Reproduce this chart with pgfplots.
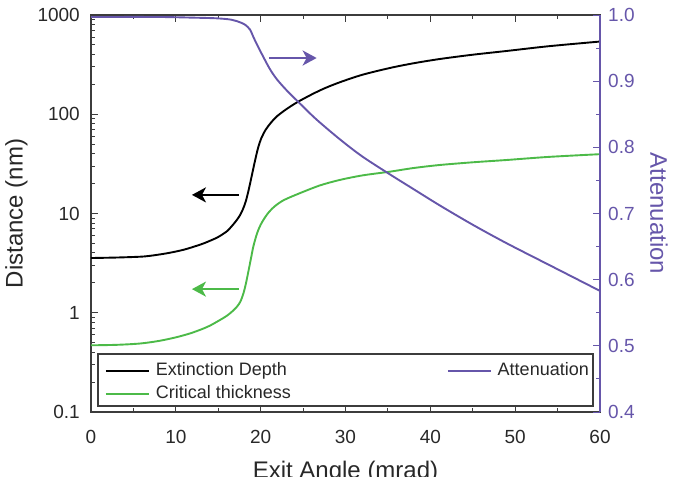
\documentclass[border=0pt]{standalone}
\usepackage{fontspec}
\setmainfont{Liberation Sans}
\usepackage{pgfplots}
\pgfplotsset{compat=1.18}
\usetikzlibrary{arrows.meta}
\definecolor{attn}{RGB}{102,86,170}
\definecolor{crit}{RGB}{76,186,72}
\definecolor{axgray}{RGB}{60,60,60}
\definecolor{txt}{RGB}{40,40,40}
\begin{document}
\begin{tikzpicture}
\pgfplotsset{
  every axis/.append style={
    scale only axis, width=509pt, height=397pt,
    xmin=0, xmax=60,
    /pgf/number format/assume math mode=true,
    tick label style={font=\fontsize{19}{19}\selectfont, text=txt},
    label style={font=\fontsize{24}{24}\selectfont},
    major tick length=7pt, minor tick length=4pt,
    tick align=inside,
  },
  legimg/.style={legend image code/.code={\draw[##1,line width=1.8pt] (0pt,0pt) -- (43pt,0pt);}},
}
\begin{axis}[
  ymode=log, ymin=0.1, ymax=1000,
  xtick={0,10,20,30,40,50,60}, minor x tick num=1,
  ytick={0.1,1,10,100,1000}, yticklabels={0.1,1,10,100,1000},
  minor ytick={0.2,0.3,0.4,0.5,0.6,0.7,0.8,0.9,2,3,4,5,6,7,8,9,20,30,40,50,60,70,80,90,200,300,400,500,600,700,800,900},
  ytick pos=left, xtick pos=both,
  axis line style={axgray, line width=1.3pt},
  tick style={axgray, line width=1pt},
  xticklabel style={inner sep=0pt, yshift=-18pt},
  yticklabel style={inner sep=0pt, xshift=-11pt},
  xlabel={Exit Angle (mrad)}, ylabel={Distance (nm)},
  xlabel style={at={(axis description cs:0.5,0)}, anchor=north, inner sep=0pt, yshift=-49pt, text=txt},
  ylabel style={at={(axis description cs:-0.169,0.5)}, anchor=north, inner sep=0pt, text=txt},
  legimg,
  legend cell align=left,
  legend style={draw=none, fill=none, inner sep=0pt, outer sep=0pt,
    font=\fontsize{18}{18}\selectfont, text=txt,
    nodes={inner sep=0pt, text height=13pt, text depth=4pt},
    row sep=6pt,
    /tikz/every odd column/.append style={column sep=6pt},
    at={(axis description cs:0.0275,0.125)}, anchor=north west},
]
\draw[axgray, line width=1.3pt, fill=white] (rel axis cs:0.0138,0.015) rectangle (rel axis cs:0.986,0.146);
\addplot[black, line width=1.9pt, smooth, tension=0.5] coordinates {
(0,3.56) (3,3.6) (5.8,3.67) (7,3.75) (9,3.98) (11,4.33) (13,4.9) (14,5.3) (15,5.8) (16,6.6) (16.5,7.3) (17,8.2) (17.5,9.4) (17.9,11.0) (18.25,13.3) (18.6,17.5) (18.95,24) (19.3,33) (19.7,46) (20.1,58) (20.6,70) (21.2,82) (21.9,95) (23,112) (24.3,132) (26,158) (27.5,182) (29.4,211) (32,250) (35.2,292) (38,326) (41.1,360) (45,398) (49,434) (54,485) (60,540)
};
\addlegendentry{Extinction Depth}
\addplot[crit, line width=1.9pt, smooth, tension=0.5] coordinates {
(0,0.47) (3,0.475) (5.8,0.49) (8,0.52) (10,0.565) (11.7,0.62) (13,0.68) (14,0.74) (15.2,0.845) (16,0.93) (16.7,1.04) (17.2,1.15) (17.6,1.29) (17.95,1.55) (18.25,1.95) (18.55,2.6) (18.85,3.5) (19.15,4.7) (19.6,6.4) (20.1,8.0) (20.8,9.9) (21.6,11.7) (22.7,13.6) (24.6,16.0) (27,19.2) (29.35,21.8) (32,24.2) (35.25,26.4) (38,28.7) (41.1,30.8) (45,32.8) (49,34.6) (54,37.2) (60,39.6)
};
\addlegendentry{Critical thickness}
\draw[black, line width=2.5pt, -{Stealth[length=14pt,width=15pt,inset=4pt]}] (axis cs:17.4,15.4) -- (axis cs:11.9,15.4);
\draw[crit, line width=2.5pt, -{Stealth[length=14pt,width=15pt,inset=4pt]}] (axis cs:17.4,1.73) -- (axis cs:11.9,1.73);
\end{axis}
\begin{axis}[
  ymin=0.4, ymax=1.0,
  axis x line=none, axis y line*=right,
  ytick={0.4,0.5,0.6,0.7,0.8,0.9,1.0}, minor y tick num=1,
  y axis line style={attn, line width=1.3pt},
  ytick style={attn, line width=1pt},
  yticklabel style={inner sep=0pt, xshift=8pt, text=attn,
    /pgf/number format/fixed, /pgf/number format/precision=1, /pgf/number format/fixed zerofill},
  ylabel={Attenuation},
  ylabel style={at={(axis description cs:1.1336,0.5)}, rotate=180, anchor=north, inner sep=0pt, text=attn},
  legimg,
  legend style={draw=none, fill=none, inner sep=0pt, outer sep=0pt,
    font=\fontsize{18}{18}\selectfont, text=txt,
    nodes={inner sep=0pt, text height=13pt, text depth=4pt},
    /tikz/every odd column/.append style={column sep=6pt},
    at={(axis description cs:0.978,0.125)}, anchor=north east},
]
\addplot[attn, line width=1.9pt, smooth, tension=0.5] coordinates {
(0,0.997) (8,0.997) (12,0.996) (14.8,0.995) (16.5,0.993) (17.56,0.989) (18.2,0.985) (18.74,0.978) (19.1,0.968) (19.5,0.957) (20.3,0.937) (21.1,0.918) (21.9,0.903) (23,0.887) (24.25,0.871) (26.5,0.843) (29.35,0.812) (32,0.786) (35.25,0.759) (38,0.737) (41.14,0.712) (45,0.683) (49,0.655) (54.5,0.619) (60,0.583)
};
\addlegendentry{Attenuation}
\draw[attn, line width=2.5pt, -{Stealth[length=14pt,width=15pt,inset=4pt]}] (axis cs:21.0,0.935) -- (axis cs:26.6,0.935);
\end{axis}
\pgfresetboundingbox
\path[use as bounding box] (-91pt,-64pt) rectangle (585pt,412pt);
\end{tikzpicture}
\end{document}
